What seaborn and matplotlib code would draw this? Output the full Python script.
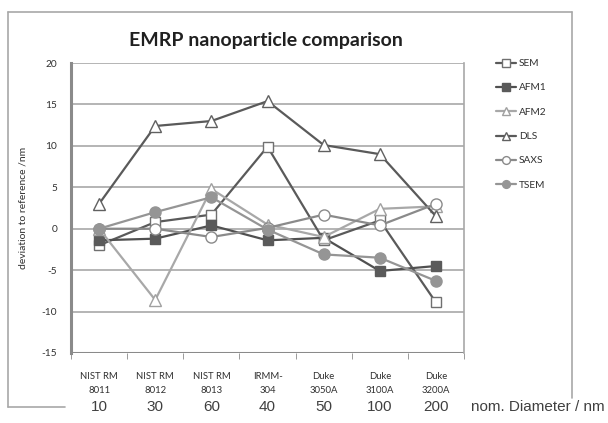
import numpy as np
import pandas as pd
import matplotlib.pyplot as plt
import seaborn as sns
from matplotlib.lines import Line2D

# --- datos ---
categorias = ["NIST RM\n8011", "NIST RM\n8012", "NIST RM\n8013", "IRMM-\n304",
              "Duke\n3050A", "Duke\n3100A", "Duke\n3200A"]
diametros = ["10", "30", "60", "40", "50", "100", "200"]

sem = [-2.0, 0.8, 1.7, 9.9, -1.4, 1.0, -8.9]
afm1 = [-1.4, -1.2, 0.4, -1.4, -1.1, -5.1, -4.5]
afm2 = [0.0, -8.6, 4.8, 0.5, -1.0, 2.4, 2.7]
dls = [3.0, 12.4, 13.0, 15.4, 10.1, 9.0, 1.5]
saxs = [0.0, 0.0, -1.0, 0.1, 1.7, 0.4, 3.0]
tsem = [0.0, 2.0, 3.8, -0.1, -3.1, -3.5, -6.3]

series = ["SEM", "AFM1", "AFM2", "DLS", "SAXS", "TSEM"]
valores = [sem, afm1, afm2, dls, saxs, tsem]

# estilo de cada serie: (marcador, color línea, relleno, borde)
estilos = {
    "SEM": ("s", "#5a5a5a", "white", "#707070"),
    "AFM1": ("s", "#505050", "#5a5a5a", "#5a5a5a"),
    "AFM2": ("^", "#a8a8a8", "white", "#a0a0a0"),
    "DLS": ("^", "#5a5a5a", "white", "#606060"),
    "SAXS": ("o", "#8a8a8a", "white", "#8a8a8a"),
    "TSEM": ("o", "#959595", "#959595", "#959595"),
}

sns.set_style("white")
plt.rcParams['font.family'] = ['Lato', 'DejaVu Sans']
plt.rcParams['axes.unicode_minus'] = False

fig = plt.figure(figsize=(6.08, 4.23), dpi=100)
ax = fig.add_axes([0.1168, 0.1655, 0.6464, 0.6855])

x = np.arange(len(categorias))
for nombre, vals in zip(series, valores):
    m, c, fc, ec = estilos[nombre]
    df = pd.DataFrame({"x": x, "y": vals})
    sns.lineplot(data=df, x="x", y="y", ax=ax, color=c, linewidth=1.6,
                 marker=m, markersize=7.5 if m == "s" else 8,
                 markerfacecolor=fc, markeredgecolor=ec, markeredgewidth=1.0,
                 sort=False, label=nombre, legend=False)

# ejes
ax.set_xlim(-0.5, len(categorias) - 0.5)
ax.set_ylim(-15, 20)
ax.set_yticks(np.arange(-15, 21, 5))
ax.yaxis.grid(True, color="#a8a8a8", linewidth=1.2)
ax.set_axisbelow(True)
for lado in ["top", "bottom"]:
    ax.spines[lado].set_visible(False)
ax.spines["left"].set_color("#8a8a8a")
ax.spines["left"].set_linewidth(2.2)
ax.spines["right"].set_color("#a8a8a8")
ax.spines["right"].set_linewidth(1.2)
ax.axhline(-15, color="#8a8a8a", linewidth=2.2, zorder=1)

ax.set_xticks(x)
ax.set_xticklabels(categorias, fontsize=6.8, color="#303030", linespacing=1.6)
ax.set_xticks(np.arange(-0.5, len(categorias), 1), minor=True)
ax.tick_params(axis="x", which="major", length=0, pad=14)
ax.tick_params(axis="x", which="minor", length=4, color="#8a8a8a", direction="out")
ax.tick_params(axis="y", length=4, color="#8a8a8a", labelsize=7.3, labelcolor="#303030", pad=6)
ax.tick_params(axis="x", bottom=True, which="minor")
ax.set_xlabel("")
ax.set_ylabel("deviation to reference /nm", fontsize=7.5, color="#303030", labelpad=10)

fig.text(0.437, 0.905, "EMRP nanoparticle comparison", ha="center", va="center",
         fontsize=14, fontweight="bold", color="#202020")

# leyenda
handles, labels = ax.get_legend_handles_labels()
fig.legend(handles, labels, loc="upper left", bbox_to_anchor=(0.80, 0.882),
           frameon=False, fontsize=7.3, handlelength=2.0, handletextpad=0.3,
           labelspacing=1.5, labelcolor="#303030", markerscale=0.7)

# fila de diámetros nominales
trans = ax.get_xaxis_transform()
for xi, d in zip(x, diametros):
    ax.text(xi, -0.185, d, transform=trans, ha="center", va="center",
            fontsize=11, family="Liberation Sans", color="#404040")
fig.text(0.775, 0.037, "nom. Diameter / nm", ha="left", va="center",
         fontsize=11, family="Liberation Sans", color="#404040")

# marco exterior
gris = "#a8a8a8"
fig.add_artist(Line2D([0.013, 0.941], [0.972, 0.972], color=gris, lw=1.2))
fig.add_artist(Line2D([0.013, 0.013], [0.972, 0.038], color=gris, lw=1.2))
fig.add_artist(Line2D([0.013, 0.107], [0.038, 0.038], color=gris, lw=1.2))
fig.add_artist(Line2D([0.941, 0.941], [0.972, 0.059], color=gris, lw=1.2))

fig.savefig("out.png", dpi=100, facecolor="white")
